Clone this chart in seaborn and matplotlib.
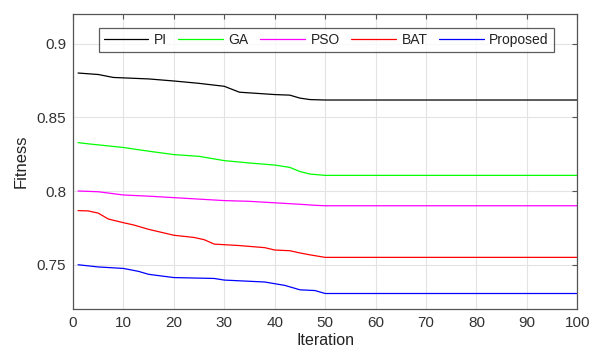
import matplotlib
matplotlib.use("Agg")
import matplotlib.pyplot as plt
import seaborn as sns
import pandas as pd
from matplotlib.ticker import FuncFormatter

# Breakpoints (iteration, fitness)
pi_it = [1, 5, 8, 15, 20, 25, 30, 33, 40, 43, 45, 47, 50, 100]
pi_val = [0.880, 0.879, 0.877, 0.876, 0.8746, 0.873, 0.871, 0.867, 0.8654, 0.865, 0.863, 0.862, 0.8617, 0.8617]

ga_it = [1, 3, 10, 15, 20, 25, 30, 35, 40, 43, 45, 47, 50, 100]
ga_val = [0.8328, 0.832, 0.8295, 0.827, 0.8247, 0.8235, 0.8206, 0.819, 0.8176, 0.816, 0.8132, 0.8115, 0.8106, 0.8106]

pso_it = [1, 5, 10, 15, 20, 25, 30, 35, 40, 45, 48, 50, 100]
pso_val = [0.800, 0.7995, 0.7973, 0.7965, 0.7955, 0.7945, 0.7935, 0.793, 0.792, 0.791, 0.7903, 0.790, 0.790]

bat_it = [1, 3, 5, 7, 10, 12, 15, 20, 24, 26, 28, 33, 38, 40, 43, 45, 47, 50, 100]
bat_val = [0.7867, 0.7865, 0.785, 0.781, 0.7785, 0.777, 0.774, 0.770, 0.7685, 0.767, 0.764, 0.763, 0.7616, 0.760, 0.7595, 0.758, 0.7567, 0.755, 0.755]

prop_it = [1, 5, 10, 13, 15, 20, 28, 30, 38, 42, 45, 48, 50, 100]
prop_val = [0.750, 0.7485, 0.7475, 0.7455, 0.7435, 0.7413, 0.7407, 0.7396, 0.7383, 0.736, 0.733, 0.7325, 0.7305, 0.7305]

names = ["PI", "GA", "PSO", "BAT", "Proposed"]
colors = ["#000000", "#00ff00", "#ff00ff", "#ff0000", "#0000ff"]
x_ticks = [0, 10, 20, 30, 40, 50, 60, 70, 80, 90, 100]
y_ticks = [0.75, 0.8, 0.85, 0.9]

frames = []
for n, its, vals in zip(names, [pi_it, ga_it, pso_it, bat_it, prop_it],
                        [pi_val, ga_val, pso_val, bat_val, prop_val]):
    frames.append(pd.DataFrame({"Iteration": its, "Fitness": vals, "Method": n}))
df = pd.concat(frames, ignore_index=True)

sns.set_style("white")
plt.rcParams["font.family"] = ["Liberation Sans", "DejaVu Sans"]

fig = plt.figure(figsize=(5.89, 3.51), dpi=100)
ax = fig.add_axes([0.124, 0.1197, 0.856, 0.8403])

sns.lineplot(data=df, x="Iteration", y="Fitness", hue="Method", hue_order=names,
             palette=dict(zip(names, colors)), estimator=None, sort=False,
             linewidth=0.9, ax=ax)

ax.set_xlim(0, 100)
ax.set_ylim(0.72, 0.92)
ax.set_xticks(x_ticks)
ax.set_yticks(y_ticks)
ax.yaxis.set_major_formatter(FuncFormatter(lambda v, p: f"{v:g}"))
ax.grid(True, color="#e3e3e3", linewidth=0.8)
ax.set_axisbelow(True)
for s in ax.spines.values():
    s.set_color("#555555")
    s.set_linewidth(0.9)
ax.tick_params(direction="in", top=True, right=True, length=3.5, width=0.8,
               colors="#555555", labelcolor="#333333", labelsize=11, pad=5)
ax.set_xlabel("Iteration", fontsize=11.5, color="#222222", labelpad=2)
ax.set_ylabel("Fitness", fontsize=12, color="#222222", labelpad=6)

leg = ax.legend(loc="upper center", bbox_to_anchor=(0.502, 0.953), ncol=5,
                frameon=True, fancybox=False, edgecolor="#333333",
                fontsize=10, handlelength=3.2, handletextpad=0.4,
                columnspacing=0.85, borderpad=0.35, borderaxespad=0.0,
                labelcolor="#222222")
leg.get_frame().set_linewidth(0.9)
for line in leg.get_lines():
    line.set_linewidth(0.9)

fig.savefig("out.png", dpi=100)
